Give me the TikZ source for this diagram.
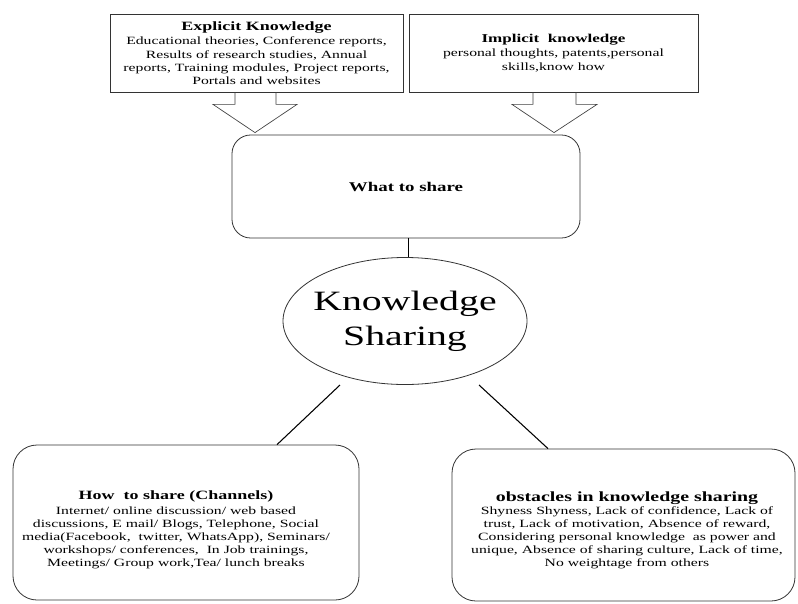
\documentclass[tikz,border=0pt]{standalone}
\usepackage{fontspec}
\setmainfont{Liberation Serif}[FakeStretch=1.42]
\usetikzlibrary{shapes.geometric,calc}
\begin{document}
\begin{tikzpicture}[x=0.75pt,y=-0.75pt,
  sqbox/.style={draw=black!80, line width=0.6pt, align=center, inner sep=1pt},
  rbox/.style={draw=black!80, line width=0.6pt, inner sep=0pt, rounded corners=18pt},
  txt/.style={align=center, inner sep=0pt},
  body/.style={font=\fontsize{8.3}{9.8}\selectfont},
  blockarrow/.style={draw=black!75, line width=0.5pt},
  link/.style={draw=black, line width=0.8pt}]
\useasboundingbox[fill=white] (0,0) rectangle (798,603);

\node[sqbox, body, minimum width=293*0.75pt, minimum height=78*0.75pt] (exp) at (256.5,53)
 {{\fontsize{9.5}{12}\selectfont\bfseries Explicit Knowledge}\\[1pt]
  Educational theories, Conference reports,\\
  Results of research studies, Annual\\
  reports, Training modules, Project reports,\\
  Portals and websites};

\node[sqbox, body, minimum width=289*0.75pt, minimum height=78*0.75pt] (imp) at (553.5,53)
 {{\fontsize{9}{12}\selectfont\bfseries Implicit\ \ knowledge}\\[1pt]
  personal thoughts, patents,personal\\
  skills,know how};

\node[rbox, align=center, minimum width=348*0.75pt, minimum height=103*0.75pt, rounded corners=14pt] (wts) at (406,186.5)
 {\fontsize{10}{12}\selectfont\bfseries What\ to\ share};

\node[draw=black!80, line width=0.6pt, ellipse, inner sep=0pt, minimum width=244*0.75pt, minimum height=127*0.75pt] (ks) at (405,321) {};
\node[txt, font=\fontsize{21}{26}\selectfont] (kstext) at (ks.center) {Knowledge\\Sharing};

\node[rbox, minimum width=346*0.75pt, minimum height=155*0.75pt] (hts) at (186,522.5) {};
\node[txt, body] (htstext) at (176,530)
 {{\fontsize{9.5}{12}\selectfont\bfseries How\ \ to share (Channels)}\\[1pt]
  Internet/ online discussion/ web based\\
  discussions, E mail/ Blogs, Telephone, Social\\
  media(Facebook,\ \ twitter, WhatsApp), Seminars/\\
  workshops/ conferences,\ \ In Job trainings,\\
  Meetings/ Group work,Tea/ lunch breaks};

\node[rbox, minimum width=343*0.75pt, minimum height=152*0.75pt] (obs) at (623.5,525) {};
\node[txt, body] (obstext) at (627,530)
 {{\fontsize{10.5}{12}\selectfont\bfseries obstacles in knowledge sharing}\\
  Shyness Shyness, Lack of confidence, Lack of\\
  trust, Lack of motivation, Absence of reward,\\
  Considering personal knowledge\ \ as power and\\
  unique, Absence of sharing culture, Lack of time,\\
  No weightage from others};

% block arrows
\draw[blockarrow] ($(exp.south)+(-21.5,0)$) -- ++(0,12) -- ++(-22,0) -- ($(wts.north)+(-151,-2)$)
  -- ($(exp.south)+(40.5,12)$) -- ++(-21,0) -- ++(0,-12);
\draw[blockarrow] ($(imp.south)+(-20.5,0)$) -- ++(0,12) -- ++(-21,0) -- ($(wts.north)+(148,-2)$)
  -- ($(imp.south)+(43.5,12)$) -- ++(-21,0) -- ++(0,-12);

% connectors
\draw[link, line width=0.7pt] ($(wts.south)+(2,0)$) -- ($(ks.north)+(3,0)$);
\coordinate (l1) at (340,385);
\coordinate (r1) at (479,385);
\draw[link] (l1) -- (hts.north -| 277,0);
\draw[link] (r1) -- (obs.north -| 548,0);
\end{tikzpicture}
\end{document}
